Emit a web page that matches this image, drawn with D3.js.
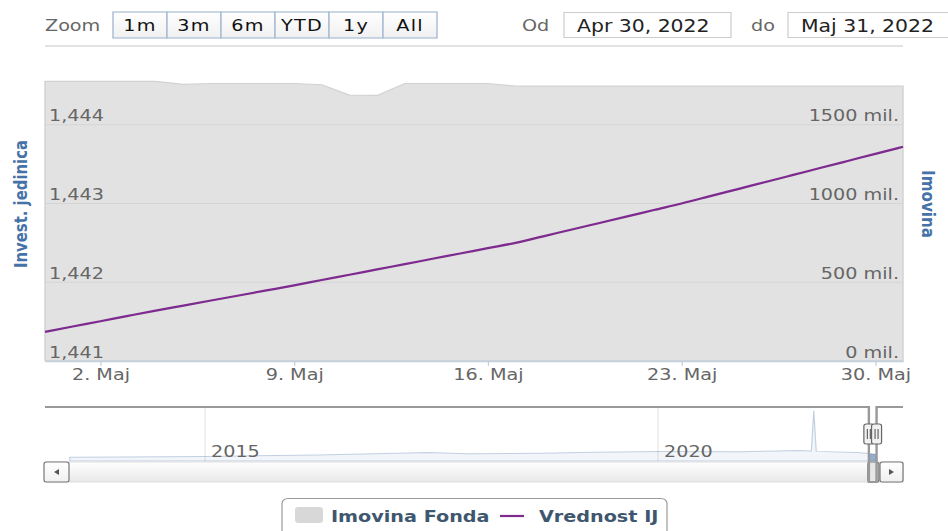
<!DOCTYPE html>
<html>
<head>
<meta charset="utf-8">
<script src="https://cdn.jsdelivr.net/npm/d3@7"></script>
<style>
  html, body { margin: 0; padding: 0; background: #fff; }
  svg { display: block; font-family: "DejaVu Sans", Verdana, sans-serif; }
</style>
</head>
<body>
<div id="chart"></div>
<script>
// ---- data ----
const days = [
    "2022-04-30", "2022-05-01", "2022-05-02", "2022-05-03", "2022-05-04", "2022-05-05",
    "2022-05-06", "2022-05-07", "2022-05-08", "2022-05-09", "2022-05-10", "2022-05-11",
    "2022-05-12", "2022-05-13", "2022-05-14", "2022-05-15", "2022-05-16", "2022-05-17",
    "2022-05-18", "2022-05-19", "2022-05-20", "2022-05-21", "2022-05-22", "2022-05-23",
    "2022-05-24", "2022-05-25", "2022-05-26", "2022-05-27", "2022-05-28", "2022-05-29",
    "2022-05-30", "2022-05-31"
];
// Vrednost IJ (unit value)
const unitValues = [
    1.441370, 1.441438, 1.441505, 1.441573, 1.441640, 1.441704,
    1.441768, 1.441832, 1.441896, 1.441960, 1.442028, 1.442095,
    1.442163, 1.442230, 1.442298, 1.442365, 1.442433, 1.442500,
    1.442583, 1.442667, 1.442750, 1.442833, 1.442917, 1.443000,
    1.443090, 1.443180, 1.443270, 1.443360, 1.443450, 1.443540,
    1.443630, 1.443720
];
// Imovina Fonda (mil.)
const fundAssets = [
    1775, 1775, 1775, 1775, 1775, 1756,
    1762, 1762, 1762, 1762, 1754, 1688,
    1686, 1762, 1762, 1762, 1762, 1745,
    1745, 1745, 1745, 1745, 1745, 1745,
    1745, 1745, 1745, 1745, 1745, 1745,
    1745, 1745
];
const leftTicks = [1.441, 1.442, 1.443, 1.444, 1.445];
const rightTicks = [0, 500, 1000, 1500];
const xTickDays = ["2022-05-02", "2022-05-09", "2022-05-16", "2022-05-23", "2022-05-30"];
const monthNames = ["Jan", "Feb", "Mar", "Apr", "Maj", "Jun", "Jul", "Avg", "Sep", "Okt", "Nov", "Dec"];

// navigator (whole history, mil.)
const navDates = [
    "2013-07-05", "2015-01-08", "2016-04-01", "2017-06-20", "2017-11-25", "2018-09-12",
    "2019-04-20", "2020-01-15", "2020-11-25", "2021-07-20", "2021-09-10", "2021-09-20",
    "2021-09-30", "2022-03-15", "2022-05-31"
];
const navAssets = [
    960, 1120, 1560, 2160, 1820, 2000,
    2260, 2420, 2340, 2680, 2550, 12800,
    2450, 2160, 1745
];
const navYears = [2015, 2020];

const zoomButtons = ["1m", "3m", "6m", "YTD", "1y", "All"];
const rangeFrom = "Apr 30, 2022";
const rangeTo = "Maj 31, 2022";

// ---- layout ----
// the picture is stretched horizontally, so x is given in screen px and divided by S
const S = 1.2;
const width = 948;
const height = 531;
const px = v => v / S;
const plot = { left: 45, right: 903, top: 46, bottom: 361 };
const nav = { top: 407, bottom: 461, barTop: 462, barBottom: 482 };

const parse = d3.timeParse("%Y-%m-%d");
const lineData = days.map((d, i) => ({ date: parse(d), v: unitValues[i] }));
const areaData = days.map((d, i) => ({ date: parse(d), v: fundAssets[i] }));
const navData = navDates.map((d, i) => ({ date: parse(d), v: navAssets[i] }));

const svg = d3.select('#chart')
    .append('svg')
    .attr('width', width)
    .attr('height', height)
    .attr('viewBox', `0 0 ${width / S} ${height}`)
    .attr('preserveAspectRatio', 'none');

const defs = svg.append('defs');
const btnGrad = defs.append('linearGradient').attr('id', 'btnGrad').attr('x1', 0).attr('x2', 0).attr('y1', 0).attr('y2', 1);
btnGrad.append('stop').attr('offset', '0%').attr('stop-color', '#ffffff');
btnGrad.append('stop').attr('offset', '100%').attr('stop-color', '#f0f0f0');
const barGrad = defs.append('linearGradient').attr('id', 'barGrad').attr('x1', 0).attr('x2', 0).attr('y1', 0).attr('y2', 1);
barGrad.append('stop').attr('offset', '0%').attr('stop-color', '#ffffff');
barGrad.append('stop').attr('offset', '100%').attr('stop-color', '#e8e8e8');

// ---- range selector ----
svg.append('text')
    .attr('x', px(45))
    .attr('y', 31)
    .attr('fill', '#666')
    .style('font-size', '16px')
    .text('Zoom');

const btnW = 54;
const buttons = svg.append('g').selectAll('g')
    .data(zoomButtons)
    .enter()
    .append('g')
    .attr('transform', (d, i) => `translate(${px(113 + i * btnW)},12)`);
buttons.append('rect')
    .attr('width', px(btnW))
    .attr('height', 26)
    .attr('fill', 'url(#btnGrad)')
    .attr('stroke', '#a9bcd3')
    .attr('stroke-width', 1.2);
buttons.append('text')
    .attr('x', px(btnW / 2))
    .attr('y', 19)
    .attr('text-anchor', 'middle')
    .attr('fill', '#111')
    .style('font-size', '16px')
    .style('letter-spacing', '1px')
    .text(d => d);

svg.append('text').attr('x', px(522)).attr('y', 31).attr('fill', '#666').style('font-size', '16px').text('Od');
svg.append('text').attr('x', px(751)).attr('y', 31).attr('fill', '#666').style('font-size', '16px').text('do');

[[564, 167, rangeFrom], [788, 175, rangeTo]].forEach(([bx, bw, label]) => {
    svg.append('rect')
        .attr('x', px(bx))
        .attr('y', 12.5)
        .attr('width', px(bw))
        .attr('height', 25)
        .attr('fill', '#fff')
        .attr('stroke', '#cccccc')
        .attr('stroke-width', 1);
    svg.append('text')
        .attr('x', px(bx + 13))
        .attr('y', 32)
        .attr('fill', '#222')
        .style('font-size', '17px')
        .text(label);
});

// ---- main plot ----
const x = d3.scaleTime()
    .domain([parse("2022-04-30"), parse("2022-05-31")])
    .range([px(plot.left), px(plot.right)]);
const yLeft = d3.scaleLinear().domain([1.441, 1.445]).range([plot.bottom, plot.top]);
const yRight = d3.scaleLinear().domain([0, 2000]).range([plot.bottom, plot.top]);

const locale = d3.formatLocale({ decimal: ",", thousands: ".", grouping: [3], currency: ["", ""] });
const fmt3 = locale.format(".3f");

// gridlines
svg.append('g')
    .selectAll('line')
    .data(leftTicks)
    .enter()
    .append('line')
    .attr('x1', px(plot.left))
    .attr('x2', px(plot.right))
    .attr('y1', d => yLeft(d))
    .attr('y2', d => yLeft(d))
    .attr('stroke', '#c8c8c8')
    .attr('stroke-width', 1);

// Imovina Fonda area
svg.append('path')
    .datum(areaData)
    .attr('d', d3.area().x(d => x(d.date)).y0(yRight(0)).y1(d => yRight(d.v)))
    .attr('fill', '#d8d8d8')
    .attr('fill-opacity', 0.75)
    .attr('stroke', '#d2d2d2')
    .attr('stroke-width', 1.2);

// Vrednost IJ line
svg.append('path')
    .datum(lineData)
    .attr('d', d3.line().curve(d3.curveMonotoneX).x(d => x(d.date)).y(d => yLeft(d.v)))
    .attr('fill', 'none')
    .attr('stroke', '#7E2B8F')
    .attr('stroke-width', 2.2);

// x axis
const xAxis = svg.append('g')
    .attr('transform', `translate(0,${plot.bottom})`)
    .call(d3.axisBottom(x)
        .tickValues(xTickDays.map(parse))
        .tickSize(5)
        .tickSizeOuter(0)
        .tickPadding(3)
        .tickFormat(d => `${d.getDate()}. ${monthNames[d.getMonth()]}`));
xAxis.select('.domain').attr('stroke', '#C0D0E0').attr('stroke-width', 1.5);
xAxis.selectAll('.tick line').attr('stroke', '#C0D0E0');
xAxis.selectAll('text')
    .attr('fill', '#666')
    .style('font-family', '"DejaVu Sans", Verdana, sans-serif')
    .style('font-size', '16px');

// left y labels
const yl = svg.append('g')
    .attr('transform', `translate(${px(plot.left)},0)`)
    .call(d3.axisRight(yLeft).tickValues(leftTicks.slice(0, 4)).tickSize(0).tickPadding(px(4)).tickFormat(fmt3));
yl.select('.domain').remove();
yl.selectAll('text')
    .attr('dy', -4)
    .attr('fill', '#666')
    .style('font-family', '"DejaVu Sans", Verdana, sans-serif')
    .style('font-size', '16px');

// right y labels
const yr = svg.append('g')
    .attr('transform', `translate(${px(899)},0)`)
    .call(d3.axisLeft(yRight).tickValues(rightTicks).tickSize(0).tickPadding(0).tickFormat(d => `${d} mil.`));
yr.select('.domain').remove();
yr.selectAll('text')
    .attr('dy', -4)
    .attr('fill', '#666')
    .style('font-family', '"DejaVu Sans", Verdana, sans-serif')
    .style('font-size', '16px');

// axis titles
svg.append('text')
    .attr('transform', `translate(${px(21)},204) rotate(-90)`)
    .attr('text-anchor', 'middle')
    .attr('dy', '0.35em')
    .attr('fill', '#4572A7')
    .attr('textLength', 128)
    .attr('lengthAdjust', 'spacingAndGlyphs')
    .style('font-size', '15px')
    .style('font-weight', 'bold')
    .text('Invest. jedinica');
svg.append('text')
    .attr('transform', `translate(${px(928)},204) rotate(90)`)
    .attr('text-anchor', 'middle')
    .attr('dy', '0.35em')
    .attr('fill', '#4572A7')
    .attr('textLength', 68)
    .attr('lengthAdjust', 'spacingAndGlyphs')
    .style('font-size', '15px')
    .style('font-weight', 'bold')
    .text('Imovina');

// ---- navigator ----
const navX = d3.scaleTime()
    .domain([new Date(2015, 0, 1), new Date(2020, 0, 1)])
    .range([px(205), px(658)]);
const navY = d3.scaleLinear().domain([0, 13000]).range([nav.bottom, nav.top + 3]);

svg.append('g')
    .selectAll('line')
    .data(navYears)
    .enter()
    .append('line')
    .attr('x1', d => navX(new Date(d, 0, 1)))
    .attr('x2', d => navX(new Date(d, 0, 1)))
    .attr('y1', nav.top)
    .attr('y2', nav.bottom)
    .attr('stroke', '#e6e6e6')
    .attr('stroke-width', 1);

const navArea = d3.area().x(d => navX(d.date)).y0(nav.bottom).y1(d => navY(d.v));
svg.append('path')
    .datum(navData)
    .attr('d', navArea)
    .attr('fill', '#4572A7')
    .attr('fill-opacity', 0.07)
    .attr('stroke', '#4572A7')
    .attr('stroke-opacity', 0.3)
    .attr('stroke-width', 1);

svg.append('g')
    .selectAll('text')
    .data(navYears)
    .enter()
    .append('text')
    .attr('x', d => navX(new Date(d, 0, 1)) + px(6))
    .attr('y', 457)
    .attr('fill', '#666')
    .style('font-size', '16px')
    .text(d => d);

const zMin = navX(parse(days[0]));
const zMax = navX(parse(days[days.length - 1]));

// selected range in navigator
defs.append('clipPath').attr('id', 'selClip')
    .append('rect')
    .attr('x', zMin).attr('y', nav.top)
    .attr('width', zMax - zMin).attr('height', nav.bottom - nav.top);
svg.append('path')
    .datum(navData)
    .attr('d', navArea)
    .attr('clip-path', 'url(#selClip)')
    .attr('fill', '#4572A7')
    .attr('fill-opacity', 0.55);

// scrollbar
svg.append('rect')
    .attr('x', px(45)).attr('y', nav.barTop)
    .attr('width', px(858)).attr('height', nav.barBottom - nav.barTop)
    .attr('fill', 'url(#barGrad)')
    .attr('stroke', '#dddddd')
    .attr('stroke-width', 1);

function scrollButton(bx, bw, dir) {
    svg.append('rect')
        .attr('x', px(bx)).attr('y', nav.barTop)
        .attr('width', px(bw)).attr('height', nav.barBottom - nav.barTop)
        .attr('rx', 2)
        .attr('fill', 'url(#btnGrad)')
        .attr('stroke', '#777')
        .attr('stroke-width', 1);
    const cx = px(bx + bw / 2);
    const cy = (nav.barTop + nav.barBottom) / 2;
    const a = px(2.5);
    // arrow tip points in direction dir
    svg.append('path')
        .attr('d', `M${cx + dir * a},${cy} L${cx - dir * a},${cy - 3} L${cx - dir * a},${cy + 3} Z`)
        .attr('fill', '#555');
}
scrollButton(44, 25, -1);
scrollButton(880, 23, 1);

// scrollbar thumb
svg.append('rect')
    .attr('x', zMin - px(1)).attr('y', nav.barTop)
    .attr('width', Math.max(zMax - zMin + px(2), px(11))).attr('height', nav.barBottom - nav.barTop)
    .attr('rx', 2)
    .attr('fill', '#e6e6e6')
    .attr('stroke', '#777')
    .attr('stroke-width', 1);

// outline
svg.append('path')
    .attr('d', `M${px(45)},${nav.top} H${zMin} V${nav.barBottom} H${zMax} V${nav.top} H${px(903)}`)
    .attr('fill', 'none')
    .attr('stroke', '#999')
    .attr('stroke-width', 2);

// handles
[zMin, zMax].forEach(hx => {
    const hw = px(10);
    svg.append('rect')
        .attr('x', hx - hw / 2).attr('y', 424)
        .attr('width', hw).attr('height', 20)
        .attr('rx', 2)
        .attr('fill', '#f2f2f2')
        .attr('stroke', '#666')
        .attr('stroke-width', 1);
    [-1, 1].forEach(o => {
        svg.append('line')
            .attr('x1', hx + o * px(1.5)).attr('x2', hx + o * px(1.5))
            .attr('y1', 429).attr('y2', 439)
            .attr('stroke', '#666')
            .attr('stroke-width', 1);
    });
});

// ---- legend ----
svg.append('rect')
    .attr('x', px(282)).attr('y', 498.5)
    .attr('width', px(385)).attr('height', 45)
    .attr('rx', 5)
    .attr('fill', '#fff')
    .attr('stroke', '#999')
    .attr('stroke-width', 1);
svg.append('rect')
    .attr('x', px(295)).attr('y', 507)
    .attr('width', px(28)).attr('height', 16)
    .attr('rx', 3)
    .attr('fill', '#d8d8d8');
svg.append('text')
    .attr('x', px(331)).attr('y', 522)
    .attr('fill', '#3E576F')
    .style('font-size', '16px')
    .style('font-weight', 'bold')
    .text('Imovina Fonda');
svg.append('line')
    .attr('x1', px(500)).attr('x2', px(524))
    .attr('y1', 516).attr('y2', 516)
    .attr('stroke', '#7E2B8F')
    .attr('stroke-width', 2.2);
svg.append('text')
    .attr('x', px(539)).attr('y', 522)
    .attr('fill', '#3E576F')
    .style('font-size', '16px')
    .style('font-weight', 'bold')
    .text('Vrednost IJ');
</script>
</body>
</html>
